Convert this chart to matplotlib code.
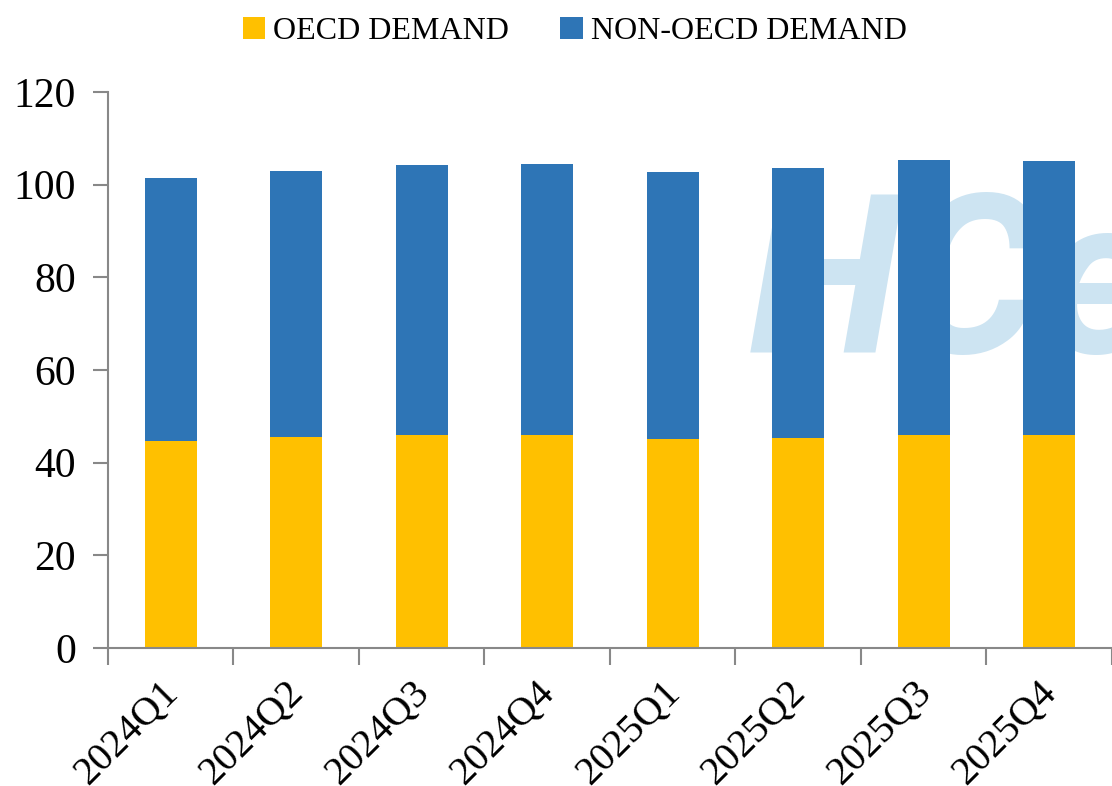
import matplotlib.pyplot as plt
import matplotlib.transforms as mtransforms
import numpy as np

quarters = ['2024Q1', '2024Q2', '2024Q3', '2024Q4',
            '2025Q1', '2025Q2', '2025Q3', '2025Q4']
oecd = [44.7, 45.5, 46.0, 46.0, 45.1, 45.3, 46.0, 46.0]
total = [101.4, 103.0, 104.2, 104.4, 102.7, 103.5, 105.3, 105.1]
non_oecd = [t - o for t, o in zip(total, oecd)]

plt.rcParams['font.family'] = ['Liberation Serif', 'DejaVu Serif']

fig = plt.figure(figsize=(11.12, 7.86), dpi=100)
ax = fig.add_axes([0.0971, 0.1756, 0.9029, 0.7074])

# faint watermark behind the bars
ax.text(0.672, 0.551, 'HCe', transform=fig.transFigure, fontsize=160,
        fontweight='bold', style='italic', family='Roboto',
        color='#cde4f2', va='baseline', zorder=1, clip_on=False)

x = np.arange(len(quarters))
ax.bar(x, oecd, width=0.415, color='#ffc000', label='OECD DEMAND', zorder=2)
ax.bar(x, non_oecd, width=0.415, bottom=oecd, color='#2e75b6',
       label='NON-OECD DEMAND', zorder=2)

ax.set_xlim(-0.5, 7.5)
ax.set_ylim(0, 120)
ax.set_yticks(range(0, 121, 20))
ax.tick_params(axis='y', labelsize=30, length=11, color='#888888', width=1.5, pad=12)

# category boundaries get the tick marks, labels sit under the bars
ax.set_xticks(np.arange(-0.5, 8, 1))
ax.set_xticklabels([])
ax.tick_params(axis='x', length=12, color='#888888', width=1.5)
ax.set_xticks(x, minor=True)
ax.set_xticklabels(quarters, minor=True, rotation=45, ha='right',
                   rotation_mode='anchor', fontsize=29)
ax.tick_params(axis='x', which='minor', length=0, pad=19)
shift = mtransforms.ScaledTranslation(-0.11, 0, fig.dpi_scale_trans)
for lab in ax.get_xticklabels(minor=True):
    lab.set_transform(lab.get_transform() + shift)

ax.patch.set_alpha(0)
for side in ['top', 'right']:
    ax.spines[side].set_visible(False)
for side in ['left', 'bottom']:
    ax.spines[side].set_color('#888888')
    ax.spines[side].set_linewidth(1.5)

fig.legend(loc='upper center', bbox_to_anchor=(0.517, 1.015), ncol=2,
           frameon=False, fontsize=23, handlelength=0.7, handleheight=0.7,
           handletextpad=0.25, columnspacing=1.6)

fig.savefig('out.png', dpi=100)
